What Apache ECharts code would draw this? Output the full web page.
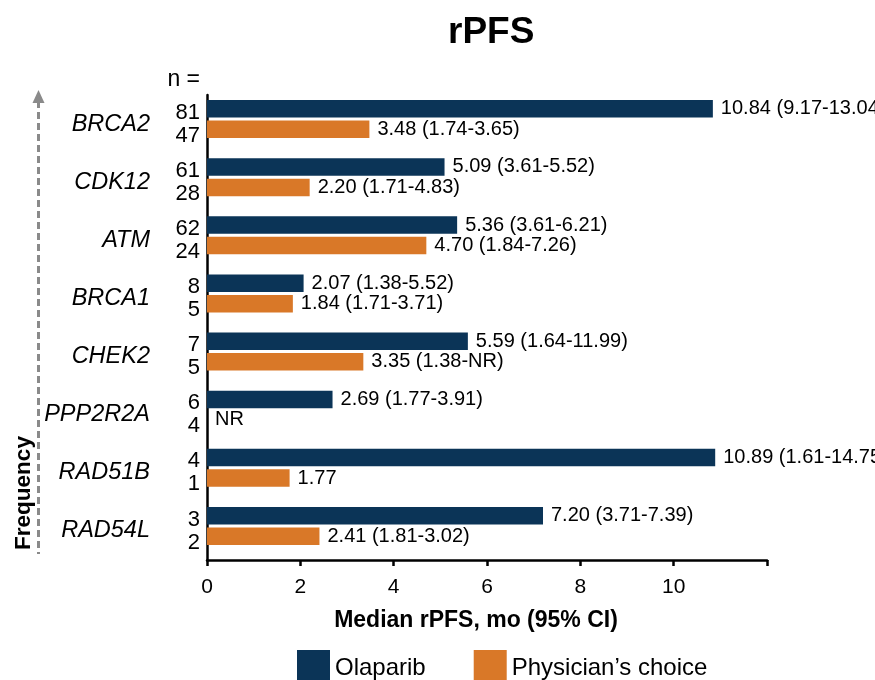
<!DOCTYPE html>
<html>
<head>
<meta charset="utf-8">
<script src="https://cdn.jsdelivr.net/npm/echarts@6/dist/echarts.min.js"></script>
<style>
html,body{margin:0;padding:0;background:#fff;}
#chart{width:875px;height:680px;}
</style>
</head>
<body>
<div id="chart"></div>
<script>
// ---- data ----
var genes = ['BRCA2', 'CDK12', 'ATM', 'BRCA1', 'CHEK2', 'PPP2R2A', 'RAD51B', 'RAD54L'];
var nOlaparib = [81, 61, 62, 8, 7, 6, 4, 3];
var nPhysician = [47, 28, 24, 5, 5, 4, 1, 2];
var olaparibMedian = [10.84, 5.09, 5.36, 2.07, 5.59, 2.69, 10.89, 7.20];
var olaparibCI = ['9.17-13.04', '3.61-5.52', '3.61-6.21', '1.38-5.52', '1.64-11.99', '1.77-3.91', '1.61-14.75', '3.71-7.39'];
var physicianMedian = [3.48, 2.20, 4.70, 1.84, 3.35, 0, 1.77, 2.41];
var physicianCI = ['1.74-3.65', '1.71-4.83', '1.84-7.26', '1.71-3.71', '1.38-NR', '', '', '1.81-3.02'];
var physicianNR = [false, false, false, false, false, true, false, false];
var xTicks = [0, 2, 4, 6, 8, 10, 12];
var seriesNames = ['Olaparib', 'Physician\u2019s choice'];

var NAVY = '#0B3457';
var ORANGE = '#D97828';
var FONT = '"Liberation Sans", Arial, sans-serif';

function fmtVal(v, ci) {
  return v.toFixed(2) + (ci ? ' (' + ci + ')' : '');
}

var chart = echarts.init(document.getElementById('chart'), null, {renderer: 'canvas'});

var option = {
  animation: false,
  backgroundColor: '#fff',
  textStyle: {fontFamily: FONT, color: '#000'},
  title: {
    text: 'rPFS',
    left: 443,
    top: 9,
    textStyle: {fontFamily: FONT, fontSize: 37, fontWeight: 'bold', color: '#000'}
  },
  legend: {
    data: seriesNames,
    left: 292,
    top: 645,
    itemWidth: 33,
    itemHeight: 36,
    itemGap: 48,
    icon: 'rect',
    textStyle: {fontFamily: FONT, fontSize: 24, color: '#000'}
  },
  grid: {
    left: 207,
    right: 108,
    top: 95,
    height: 465,
    containLabel: false,
    outerBoundsMode: 'none'
  },
  xAxis: {
    type: 'value',
    min: xTicks[0],
    max: xTicks[xTicks.length - 1],
    interval: 2,
    axisLine: {show: true, lineStyle: {color: '#000', width: 2.5}},
    axisTick: {show: true, length: 6, lineStyle: {color: '#000', width: 2.5}},
    splitLine: {show: false},
    axisLabel: {
      fontFamily: FONT, fontSize: 21, color: '#000', margin: 17,
      formatter: function (v) { return v === 12 ? '' : String(v); }
    },
    name: 'Median rPFS, mo (95% CI)',
    nameLocation: 'middle',
    nameGap: 49,
    nameTextStyle: {fontFamily: FONT, fontSize: 23, fontWeight: 'bold', color: '#000', padding: [0, 22, 0, 0]}
  },
  yAxis: [
    {
      type: 'category',
      inverse: true,
      data: genes,
      position: 'left',
      axisLine: {show: false},
      axisTick: {show: false},
      axisLabel: {
        fontFamily: FONT, fontSize: 23.5, fontStyle: 'italic', color: '#000',
        margin: 57, padding: [0, 0, 8, 0]
      }
    },
    {
      type: 'category',
      inverse: true,
      data: genes,
      position: 'left',
      axisLine: {show: true, lineStyle: {color: '#000', width: 2.5}},
      axisTick: {show: false},
      axisLabel: {
        fontFamily: FONT, fontSize: 22, color: '#000', lineHeight: 23,
        margin: 7, padding: [0, 0, 11, 0], align: 'right',
        formatter: function (v, i) { return nOlaparib[i] + '\n' + nPhysician[i]; }
      }
    }
  ],
  series: [
    {
      name: seriesNames[0],
      type: 'bar',
      yAxisIndex: 1,
      data: olaparibMedian,
      barWidth: 17.5,
      barGap: '17%',
      itemStyle: {color: NAVY},
      label: {
        show: true, position: 'right', distance: 8,
        fontFamily: FONT, fontSize: 20, color: '#000',
        formatter: function (p) { return fmtVal(olaparibMedian[p.dataIndex], olaparibCI[p.dataIndex]); }
      }
    },
    {
      name: seriesNames[1],
      type: 'bar',
      yAxisIndex: 1,
      data: physicianMedian,
      barWidth: 17.5,
      barGap: '17%',
      itemStyle: {color: ORANGE},
      label: {
        show: true, position: 'right', distance: 8,
        fontFamily: FONT, fontSize: 20, color: '#000',
        formatter: function (p) {
          var i = p.dataIndex;
          return physicianNR[i] ? 'NR' : fmtVal(physicianMedian[i], physicianCI[i]);
        }
      }
    },
    {
      name: '_spacer',
      type: 'bar',
      yAxisIndex: 1,
      data: [],
      barWidth: 7,
      barGap: '17%',
      silent: true
    }
  ],
  graphic: [
    {
      type: 'line',
      shape: {x1: 38.5, y1: 101, x2: 38.5, y2: 554},
      style: {stroke: '#8a8a8a', lineWidth: 3, lineDash: [7, 4]}
    },
    {
      type: 'polygon',
      shape: {points: [[32.5, 103], [38.5, 90], [44.5, 103]]},
      style: {fill: '#8a8a8a'}
    },
    {
      type: 'text',
      x: 24,
      y: 493,
      rotation: Math.PI / 2,
      style: {
        text: 'Frequency', fontFamily: FONT, fontSize: 22.5, fontWeight: 'bold',
        fill: '#000', textAlign: 'center', textVerticalAlign: 'middle'
      }
    },
    {
      type: 'text',
      x: 200,
      y: 80,
      style: {
        text: 'n =', fontFamily: FONT, fontSize: 23, fill: '#000',
        textAlign: 'right', textVerticalAlign: 'middle'
      }
    }
  ]
};

chart.setOption(option);
</script>
</body>
</html>
